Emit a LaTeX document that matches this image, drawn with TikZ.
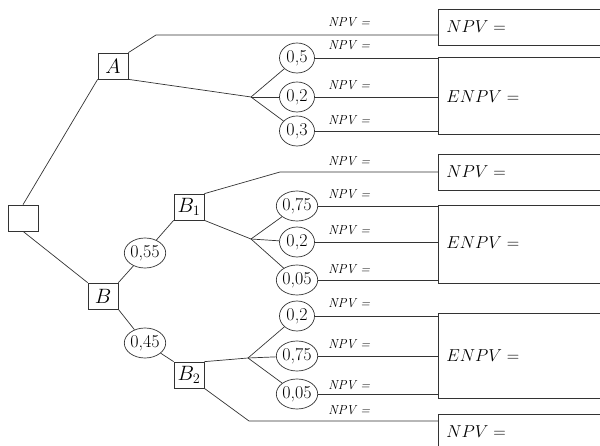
\documentclass[tikz,border=0pt]{standalone}
\usepackage{fontspec}
\usetikzlibrary{shapes.geometric,calc}
\begin{document}
\begin{tikzpicture}[x=1pt,y=-1pt,line width=0.7pt,draw=black!80,
  dec/.style={draw,rectangle,inner sep=0pt,minimum width=30pt,minimum height=26pt,font=\fontsize{20}{22}\selectfont},
  chance/.style={draw,ellipse,inner sep=0pt,minimum width=35pt,minimum height=30pt,font=\fontsize{18}{20}\selectfont},
  resbox/.style={draw},
  small/.style={anchor=base west,inner sep=0pt,font=\fontsize{13}{15}\selectfont\itshape},
  big/.style={anchor=west,inner sep=0pt,font=\fontsize{17.5}{20}\selectfont}]
\clip (0,0) rectangle (600,446);
% decision nodes
\node[dec] (root) at (23,218) {};
\node[dec] (A) at (113,66) {$A$};
\node[dec] (B) at (103,296) {$B$};
\node[dec] (B1) at (189,207) {$B_1$};
\node[dec] (B2) at (189,375) {$B_2$};
\node[chance] (c55) at (145,253) {0,55};
\node[chance] (c45) at (145,343) {0,45};
% forks and bends
\coordinate (fA) at (251,97);
\coordinate (fB1) at (251,239);
\coordinate (fB2) at (248,358);
\coordinate (kA) at (156,35);
\coordinate (kB1) at (280,172);
\coordinate (kB2) at (249,421);
% chance circles
\node[chance] (a1) at (297,58) {0,5};
\node[chance] (a2) at (297,97) {0,2};
\node[chance] (a3) at (297,131) {0,3};
\node[chance] (b1) at (297,206) {0,75};
\node[chance] (b2) at (297,242) {0,2};
\node[chance] (b3) at (297,280) {0,05};
\node[chance] (d1) at (297,316) {0,2};
\node[chance] (d2) at (297,356) {0,75};
\node[chance] (d3) at (297,394) {0,05};
% result boxes
\draw[resbox] (438,9) rectangle (620,45);
\draw[resbox] (438,57) rectangle (620,134);
\draw[resbox] (438,154) rectangle (620,190);
\draw[resbox] (438,205) rectangle (620,283);
\draw[resbox] (438,313) rectangle (620,398);
\draw[resbox] (438,414) rectangle (620,470);
\node[big] (tN1) at (446,27) {$NPV =$};
\node[big] (tE1) at (446,97) {$ENPV =$};
\node[big] (tN2) at (446,172) {$NPV =$};
\node[big] (tE2) at (446,243) {$ENPV =$};
\node[big] (tE3) at (446,356) {$ENPV =$};
\node[big] (tN3) at (446,432) {$NPV =$};
% line end coordinates on boxes
\coordinate (eA) at (438,35);
\coordinate (eB1) at (438,172);
\coordinate (eB2) at (438,421);
% tree connectors
\draw (root.north) -- (A.south west);
\draw (root.south) -- (B.north west);
\draw (A.north east) -- (kA) -- (eA);
\draw (A.south east) -- (fA);
\draw (fA) -- (a1); \draw (fA) -- (a2); \draw (fA) -- (a3);
\draw (B.north east) -- (c55) -- (B1.south west);
\draw (B.south east) -- (c45) -- (B2.north west);
\draw (B1.north east) -- (kB1) -- (eB1);
\draw (B1.south east) -- (fB1);
\draw (fB1) -- (b1); \draw (fB1) -- (b2); \draw (fB1) -- (b3);
\draw (B2.north east) -- (fB2);
\draw (fB2) -- (d1); \draw (fB2) -- (d2); \draw (fB2) -- (d3);
\draw (B2.south east) -- (kB2) -- (eB2);
\foreach \c in {a1,a2,a3,b1,b2,b3,d1,d2,d3}{
  \draw (\c.east) -- (\c.east -| eA);
}
% small NPV labels
\node[small] (l1) at (328,27) {NPV =};
\node[small] (l2) at (328,50) {NPV =};
\node[small] (l3) at (328,90) {NPV =};
\node[small] (l4) at (328,125) {NPV =};
\node[small] (l5) at (328,166) {NPV =};
\node[small] (l6) at (328,199) {NPV =};
\node[small] (l7) at (328,235) {NPV =};
\node[small] (l8) at (328,274) {NPV =};
\node[small] (l9) at (328,308) {NPV =};
\node[small] (l10) at (328,349) {NPV =};
\node[small] (l11) at (328,389) {NPV =};
\node[small] (l12) at (328,414) {NPV =};
\end{tikzpicture}
\end{document}
